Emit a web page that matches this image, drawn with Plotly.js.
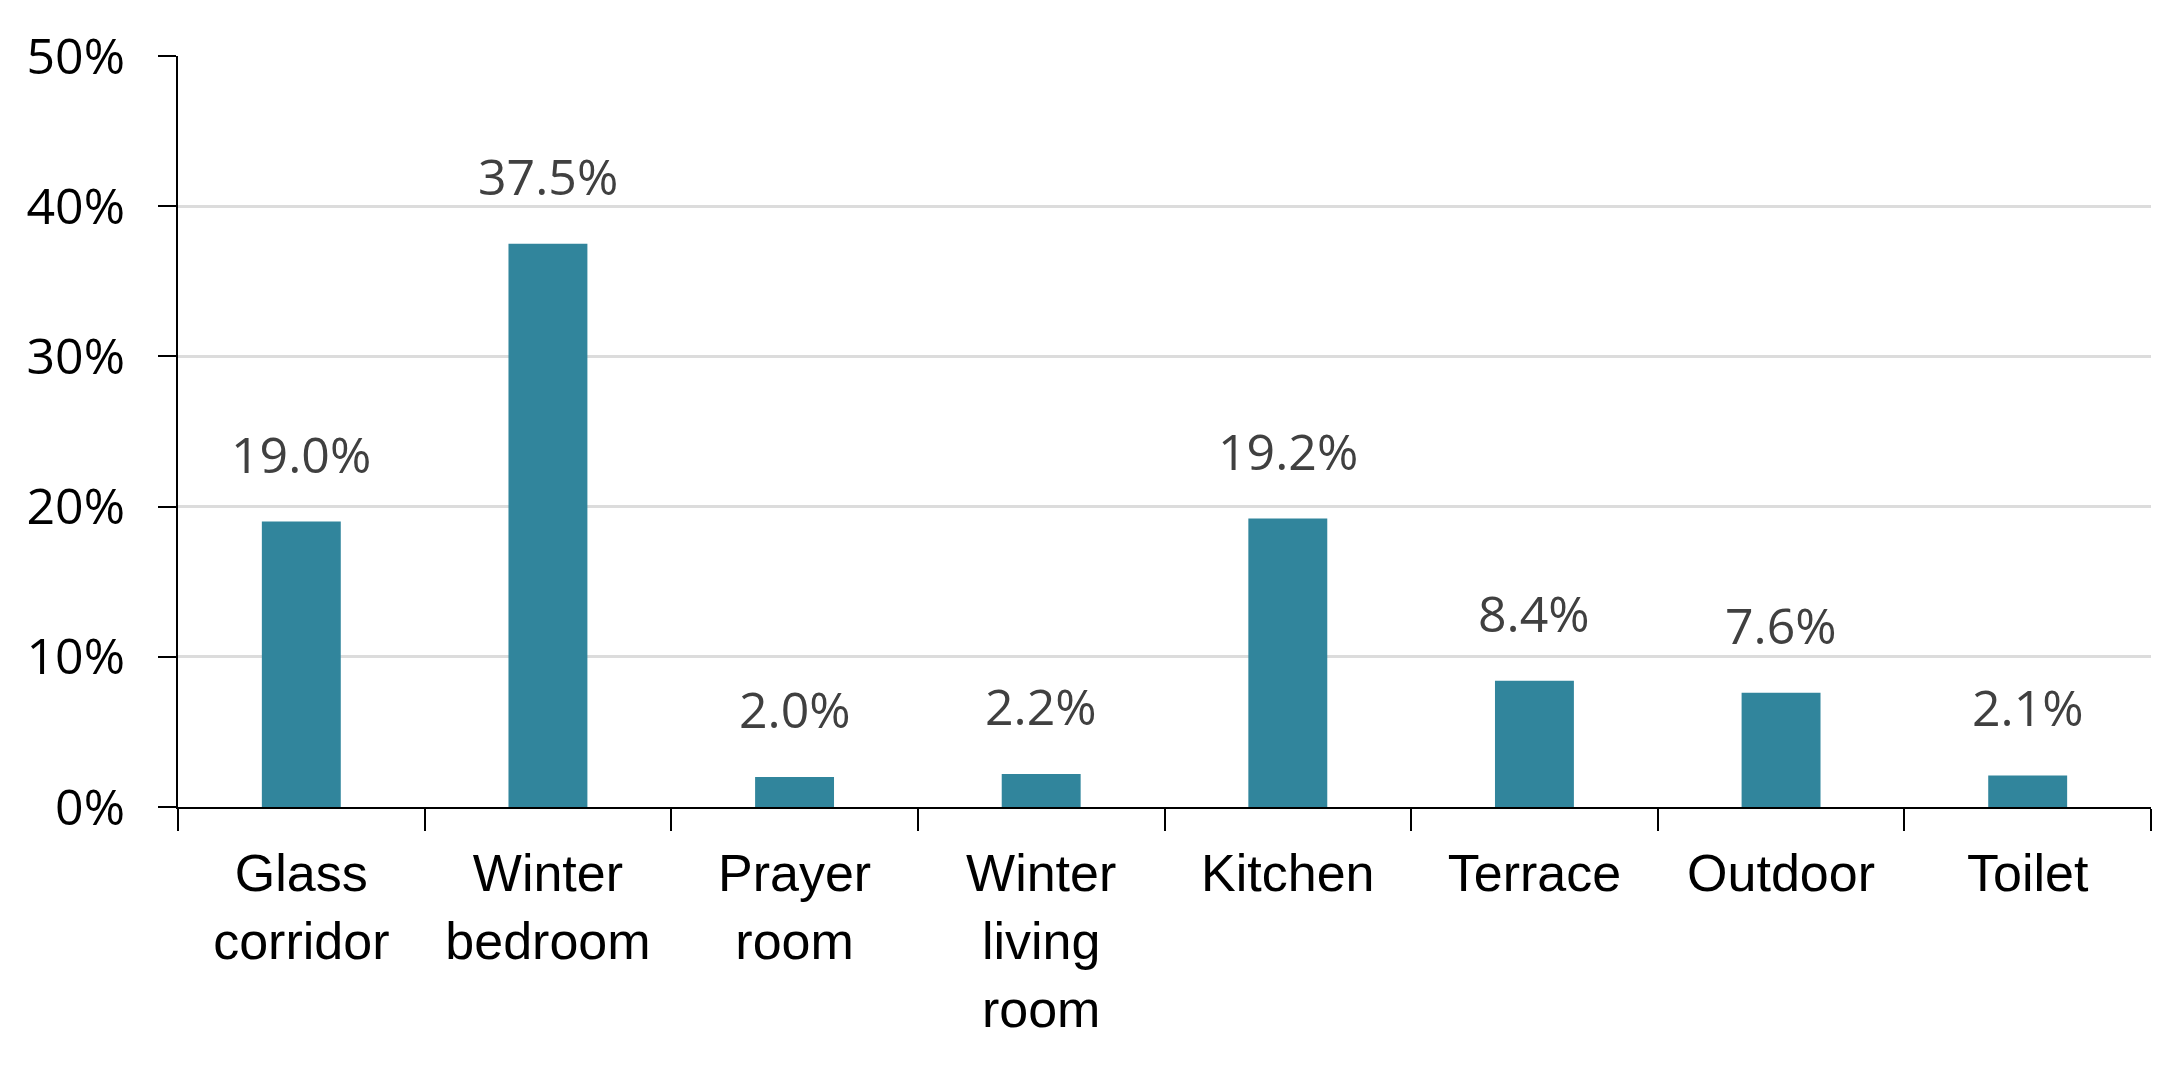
<!DOCTYPE html>
<html>
<head>
<meta charset="utf-8">
<script src="https://cdn.plot.ly/plotly-3.0.1.min.js"></script>
<style>html,body{margin:0;padding:0;background:#fff;}#chart{width:2179px;height:1068px;}</style>
</head>
<body>
<div id="chart"></div>
<script>
const categories = ["Glass<br>corridor", "Winter<br>bedroom", "Prayer<br>room", "Winter<br>living<br>room", "Kitchen", "Terrace", "Outdoor", "Toilet"];
const shares = [19.0, 37.5, 2.0, 2.2, 19.2, 8.4, 7.6, 2.1];
const yTicks = [0, 10, 20, 30, 40, 50];

const barColor = "#31859C";

const trace = {
  type: "bar",
  x: categories,
  y: shares,
  width: 0.32,
  marker: {color: barColor},
  hoverinfo: "none"
};

const annotations = categories.map((c, i) => ({
  x: c, y: shares[i], xref: "x", yref: "y",
  text: shares[i].toFixed(1) + "%",
  showarrow: false, yanchor: "middle", yshift: 68,
  font: {family: "Open Sans, sans-serif", size: 50, color: "#404040"}
}));

const layout = {
  width: 2179, height: 1068,
  margin: {l: 178, r: 28, t: 56, b: 261},
  paper_bgcolor: "#fff", plot_bgcolor: "#fff",
  showlegend: false,
  xaxis: {
    type: "category",
    tickson: "boundaries",
    ticks: "outside", ticklen: 22, tickwidth: 2, tickcolor: "#000",
    showline: true, linecolor: "#000", linewidth: 2,
    showgrid: false,
    tickfont: {family: "Liberation Sans, Arial, sans-serif", size: 52, color: "#000"},
    ticklabelstandoff: 20
  },
  yaxis: {
    range: [0, 50],
    tickvals: yTicks,
    ticktext: yTicks.map(v => v + "%"),
    ticks: "outside", ticklen: 18, tickwidth: 2, tickcolor: "#000",
    showline: true, linecolor: "#000", linewidth: 2,
    showgrid: true, gridcolor: "#DCDCDC", gridwidth: 3,
    zeroline: false,
    tickfont: {family: "Open Sans, sans-serif", size: 50, color: "#000"},
    ticklabelstandoff: 23
  },
  annotations: annotations
};

Plotly.newPlot("chart", [trace], layout, {staticPlot: true, displayModeBar: false});
</script>
</body>
</html>
